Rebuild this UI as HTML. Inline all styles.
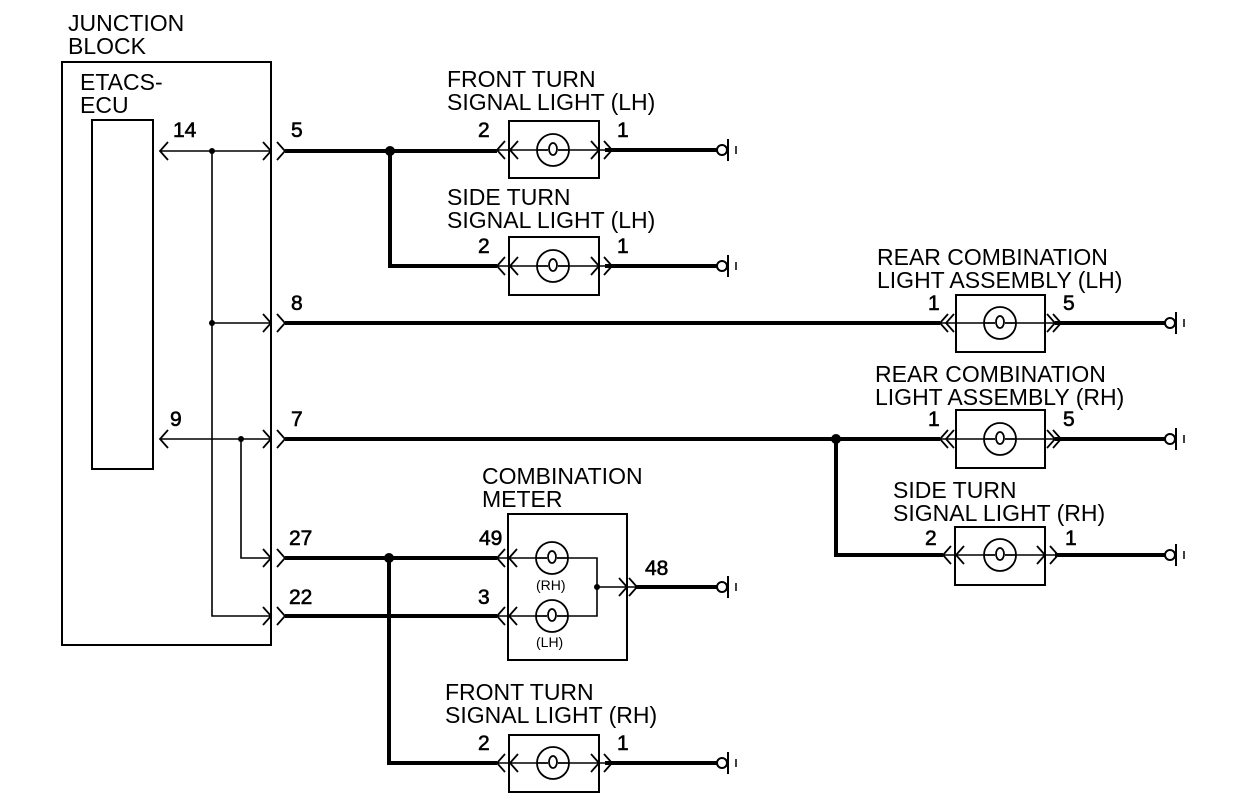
<!DOCTYPE html>
<html><head><meta charset="utf-8"><style>
html,body{margin:0;padding:0;background:#fff;}
svg{display:block;}
text{font-family:"Liberation Sans",sans-serif;fill:#000;}
.l{font-size:23px;}
.n{font-size:21px;font-family:"Liberation Sans Narrow","Liberation Sans",sans-serif;stroke:#000;stroke-width:0.6;}
.s{font-size:14px;}
</style></head><body>
<svg width="1248" height="806" viewBox="0 0 1248 806" xmlns="http://www.w3.org/2000/svg">
<defs>
<path id="cr" d="M-8,-9 L0,0 L-8,9" fill="none" stroke="#000" stroke-width="1.8"/>
<path id="cl" d="M8,-9 L0,0 L8,9" fill="none" stroke="#000" stroke-width="1.8"/>
<g id="bulb" fill="none" stroke="#000" stroke-width="1.8">
<circle r="16" fill="#fff"/>
<path d="M-16,0 H-5 M5,0 H16"/>
<ellipse cx="0" cy="-1" rx="4" ry="6"/>
</g>
<g id="gnd" fill="none" stroke="#000" stroke-width="2">
<circle cx="0" cy="0" r="5" fill="#fff"/>
<path d="M6,-11 V11"/>
<path d="M14,-4 V4" stroke-width="1.5"/>
</g>
</defs>

<g fill="none" stroke="#000">
<rect x="62" y="62" width="209" height="583" stroke-width="2"/>
<rect x="92" y="120" width="61" height="349" stroke-width="2"/>

<g stroke-width="1.6">
<path d="M160,151 H271"/>
<path d="M212,151 V616 H271"/>
<path d="M212,323 H271"/>
<path d="M160,439 H271"/>
<path d="M241,439 V558 H271"/>
</g>

<g stroke-width="4">
<path d="M285,151 H497"/>
<path d="M390,151 V266 H497"/>
<path d="M605,150 H717"/>
<path d="M605,266 H717"/>
<path d="M285,323 H940"/>
<path d="M1055,323 H1165"/>
<path d="M285,439 H940"/>
<path d="M836,439 V555 H943"/>
<path d="M1055,439 H1165"/>
<path d="M1055,555 H1165"/>
<path d="M285,558 H497"/>
<path d="M285,616 H497"/>
<path d="M389,558 V763 H497"/>
<path d="M635,587 H717"/>
<path d="M605,763 H717"/>
</g>

<g stroke-width="2">
<rect x="509" y="121" width="90" height="57"/>
<rect x="509" y="237" width="90" height="58"/>
<rect x="956" y="295" width="89" height="57"/>
<rect x="956" y="410" width="89" height="58"/>
<rect x="955" y="527" width="90" height="58"/>
<rect x="508" y="514" width="119" height="146"/>
<rect x="509" y="735" width="90" height="57"/>
</g>
<g stroke-width="1.6">
<path d="M497,150 H612"/>
<path d="M497,266 H612"/>
<path d="M940,323 H1055"/>
<path d="M940,439 H1055"/>
<path d="M943,555 H1057"/>
<path d="M497,763 H612"/>
<path d="M497,558 H597 V616 H497"/>
<path d="M597,587 H635"/>
</g>
</g>

<use href="#bulb" x="553" y="150"/>
<use href="#bulb" x="553" y="266"/>
<use href="#bulb" x="1000" y="323"/>
<use href="#bulb" x="1000" y="439"/>
<use href="#bulb" x="1000" y="555"/>
<use href="#bulb" x="553" y="763"/>
<use href="#bulb" x="552" y="558"/>
<use href="#bulb" x="552" y="616"/>

<use href="#gnd" x="722" y="150"/>
<use href="#gnd" x="722" y="266"/>
<use href="#gnd" x="1170" y="323"/>
<use href="#gnd" x="1170" y="439"/>
<use href="#gnd" x="1170" y="555"/>
<use href="#gnd" x="722" y="587"/>
<use href="#gnd" x="722" y="763"/>

<g fill="#000">
<circle cx="212" cy="151" r="3"/>
<circle cx="212" cy="323" r="3"/>
<circle cx="241" cy="439" r="3"/>
<circle cx="390" cy="151" r="5"/>
<circle cx="836" cy="439" r="5"/>
<circle cx="389" cy="558" r="5"/>
<circle cx="597" cy="587" r="3"/>
</g>

<use href="#cl" x="160" y="151"/>
<use href="#cl" x="160" y="439"/>
<use href="#cr" x="271" y="151"/><use href="#cr" x="285" y="151"/>
<use href="#cr" x="271" y="323"/><use href="#cr" x="285" y="323"/>
<use href="#cr" x="271" y="439"/><use href="#cr" x="285" y="439"/>
<use href="#cr" x="271" y="558"/><use href="#cr" x="285" y="558"/>
<use href="#cr" x="271" y="616"/><use href="#cr" x="285" y="616"/>
<use href="#cl" x="497" y="150"/><use href="#cl" x="510" y="150"/>
<use href="#cr" x="599" y="150"/><use href="#cr" x="612" y="150"/>
<use href="#cl" x="497" y="266"/><use href="#cl" x="510" y="266"/>
<use href="#cr" x="599" y="266"/><use href="#cr" x="612" y="266"/>
<use href="#cl" x="497" y="763"/><use href="#cl" x="510" y="763"/>
<use href="#cr" x="599" y="763"/><use href="#cr" x="612" y="763"/>
<use href="#cl" x="940" y="323"/><use href="#cl" x="946" y="323"/>
<use href="#cr" x="1055" y="323"/><use href="#cr" x="1061" y="323"/>
<use href="#cl" x="940" y="439"/><use href="#cl" x="946" y="439"/>
<use href="#cr" x="1055" y="439"/><use href="#cr" x="1061" y="439"/>
<use href="#cl" x="943" y="555"/><use href="#cl" x="956" y="555"/>
<use href="#cr" x="1045" y="555"/><use href="#cr" x="1058" y="555"/>
<use href="#cl" x="497" y="558"/><use href="#cl" x="509" y="558"/>
<use href="#cl" x="497" y="616"/><use href="#cl" x="509" y="616"/>
<use href="#cr" x="627" y="587"/><use href="#cr" x="637" y="587"/>

<text class="l" x="68" y="31">JUNCTION</text>
<text class="l" x="68" y="54">BLOCK</text>
<text class="l" x="80" y="90">ETACS-</text>
<text class="l" x="80" y="113">ECU</text>
<text class="l" x="447" y="87">FRONT TURN</text>
<text class="l" x="447" y="110">SIGNAL LIGHT (LH)</text>
<text class="l" x="447" y="205">SIDE TURN</text>
<text class="l" x="447" y="228">SIGNAL LIGHT (LH)</text>
<text class="l" x="877" y="265">REAR COMBINATION</text>
<text class="l" x="877" y="288">LIGHT ASSEMBLY (LH)</text>
<text class="l" x="875" y="382">REAR COMBINATION</text>
<text class="l" x="875" y="405">LIGHT ASSEMBLY (RH)</text>
<text class="l" x="893" y="498">SIDE TURN</text>
<text class="l" x="893" y="521">SIGNAL LIGHT (RH)</text>
<text class="l" x="482" y="484">COMBINATION</text>
<text class="l" x="482" y="507">METER</text>
<text class="l" x="445" y="700">FRONT TURN</text>
<text class="l" x="445" y="723">SIGNAL LIGHT (RH)</text>
<text class="s" x="536" y="590">(RH)</text>
<text class="s" x="536" y="647">(LH)</text>

<text class="n" x="173" y="137">14</text>
<text class="n" x="291" y="137">5</text>
<text class="n" x="478" y="137">2</text>
<text class="n" x="617" y="137">1</text>
<text class="n" x="478" y="253">2</text>
<text class="n" x="617" y="253">1</text>
<text class="n" x="291" y="310">8</text>
<text class="n" x="928" y="310">1</text>
<text class="n" x="1063" y="310">5</text>
<text class="n" x="170" y="426">9</text>
<text class="n" x="291" y="426">7</text>
<text class="n" x="928" y="426">1</text>
<text class="n" x="1063" y="426">5</text>
<text class="n" x="289" y="545">27</text>
<text class="n" x="479" y="545">49</text>
<text class="n" x="645" y="575">48</text>
<text class="n" x="925" y="545">2</text>
<text class="n" x="1065" y="545">1</text>
<text class="n" x="289" y="604">22</text>
<text class="n" x="478" y="604">3</text>
<text class="n" x="478" y="750">2</text>
<text class="n" x="617" y="750">1</text>
</svg>
</body></html>
